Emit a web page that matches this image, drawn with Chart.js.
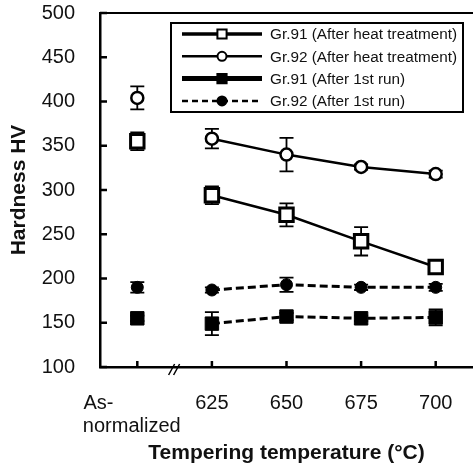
<!DOCTYPE html>
<html>
<head>
<meta charset="utf-8">
<script src="https://cdn.jsdelivr.net/npm/chart.js@4/dist/chart.umd.min.js"></script>
<style>
	html, body { margin: 0; padding: 0; background: #fff; }
</style>
</head>
<body>
<canvas id="chart" width="473" height="466"></canvas>
<script>
// categories (first label padded so the two lines look left aligned)
const categories = [['As-              ', 'normalized  '], '625', '650', '675', '700'];
const yTicks = [100, 150, 200, 250, 300, 350, 400, 450, 500];

// hardness values, HV
const gr91Heat = [355, 294, 272, 242, 213];
const gr91HeatErr = [10, 10, 13, 16, 3];
const gr92Heat = [404, 358, 340, 326, 318];
const gr92HeatErr = [13, 11, 19, 3, 4];
const gr91Run = [155, 149, 157, 155, 156];
const gr91RunErr = [3, 13, 4, 3, 9];
const gr92Run = [190, 187, 193, 190, 190];
const gr92RunErr = [6, 3, 8, 3, 4];

const FONT = "'Liberation Sans', Arial, sans-serif";
const INK = '#111';

// no line between As-normalized and 625
const skipFirst = {
	borderColor: ctx => ctx.p0DataIndex === 0 ? 'rgba(0,0,0,0)' : undefined,
};

function makeSet(label, data, errors, opts)
{
	return Object.assign({
		label: label,
		data: data,
		errors: errors,
		borderColor: '#000',
		pointBorderColor: '#000',
		fill: false,
		tension: 0,
		segment: skipFirst,
	}, opts);
}

const datasets = [
	makeSet('Gr.91 (After heat treatment)', gr91Heat, gr91HeatErr, {
		borderWidth: 2.5, pointStyle: 'rect', pointRadius: 9.5,
		pointBackgroundColor: '#fff', pointBorderWidth: 3,
		legendWidth: 3.5, legendDash: [], legendRadius: 6.5,
	}),
	makeSet('Gr.92 (After heat treatment)', gr92Heat, gr92HeatErr, {
		borderWidth: 2.5, pointStyle: 'circle', pointRadius: 6,
		pointBackgroundColor: '#fff', pointBorderWidth: 2.5,
		legendWidth: 2.5, legendDash: [], legendRadius: 4.5,
	}),
	makeSet('Gr.91 (After 1st run)', gr91Run, gr91RunErr, {
		borderWidth: 3, borderDash: [8, 4], pointStyle: 'rect', pointRadius: 9.5,
		pointBackgroundColor: '#000', pointBorderWidth: 1,
		legendWidth: 5, legendDash: [], legendRadius: 6.5,
	}),
	makeSet('Gr.92 (After 1st run)', gr92Run, gr92RunErr, {
		borderWidth: 3, borderDash: [8, 4], pointStyle: 'circle', pointRadius: 6,
		pointBackgroundColor: '#000', pointBorderWidth: 1,
		legendWidth: 2.5, legendDash: [6, 4], legendRadius: 4.5,
	}),
];

const decor = {
	id: 'decor',
	beforeDatasetsDraw(chart)
	{
		// error bars
		const ctx = chart.ctx;
		const xs = chart.scales.x, ys = chart.scales.y;
		ctx.save();
		ctx.strokeStyle = '#000';
		ctx.lineWidth = 1.8;
		chart.data.datasets.forEach(ds => {
			ds.data.forEach((v, i) => {
				const e = ds.errors[i];
				const px = xs.getPixelForValue(i);
				const top = ys.getPixelForValue(v + e);
				const bot = ys.getPixelForValue(v - e);
				ctx.beginPath();
				ctx.moveTo(px, top); ctx.lineTo(px, bot);
				ctx.moveTo(px - 7, top); ctx.lineTo(px + 7, top);
				ctx.moveTo(px - 7, bot); ctx.lineTo(px + 7, bot);
				ctx.stroke();
			});
		});
		ctx.restore();
	},
	afterDraw(chart)
	{
		const ctx = chart.ctx;
		const area = chart.chartArea;
		const xs = chart.scales.x, ys = chart.scales.y;
		ctx.save();
		ctx.strokeStyle = '#000';

		// top frame line
		ctx.lineWidth = 2;
		ctx.beginPath();
		ctx.moveTo(area.left, area.top);
		ctx.lineTo(area.right, area.top);
		ctx.stroke();

		// inward ticks
		ctx.lineWidth = 2.5;
		ctx.beginPath();
		yTicks.forEach(v => {
			const py = ys.getPixelForValue(v);
			ctx.moveTo(area.left, py); ctx.lineTo(area.left + 7, py);
		});
		categories.forEach((c, i) => {
			const px = xs.getPixelForValue(i);
			ctx.moveTo(px, area.bottom); ctx.lineTo(px, area.bottom - 6);
		});
		ctx.stroke();

		// axis break //
		const bx = (xs.getPixelForValue(0) + xs.getPixelForValue(1)) / 2;
		ctx.lineWidth = 1.5;
		ctx.beginPath();
		ctx.moveTo(bx - 6, area.bottom + 8); ctx.lineTo(bx, area.bottom - 3);
		ctx.moveTo(bx - 1, area.bottom + 8); ctx.lineTo(bx + 5, area.bottom - 3);
		ctx.stroke();

		// legend box
		const lx = area.left + 71, ly = area.top + 10, lw = 292, lh = 89;
		ctx.lineWidth = 2;
		ctx.fillStyle = '#fff';
		ctx.fillRect(lx, ly, lw, lh);
		ctx.strokeRect(lx, ly, lw, lh);

		ctx.font = '15.3px ' + FONT;
		ctx.textBaseline = 'middle';
		chart.data.datasets.forEach((ds, i) => {
			const rowY = ly + 11 + i * 22.3;
			ctx.strokeStyle = '#000';
			ctx.lineWidth = ds.legendWidth;
			ctx.setLineDash(ds.legendDash);
			ctx.beginPath();
			ctx.moveTo(lx + 11, rowY); ctx.lineTo(lx + 91, rowY);
			ctx.stroke();
			ctx.setLineDash([]);
			ctx.fillStyle = ds.pointBackgroundColor;
			ctx.lineWidth = 2;
			Chart.helpers.drawPoint(ctx, {
				pointStyle: ds.pointStyle, rotation: 0,
				radius: ds.legendRadius, borderWidth: 2,
			}, lx + 51, rowY);
			ctx.fillStyle = INK;
			ctx.fillText(ds.label, lx + 99, rowY + 1);
		});
		ctx.restore();
	},
};

new Chart(document.getElementById('chart'), {
	type: 'line',
	data: { labels: categories, datasets: datasets },
	plugins: [decor],
	options: {
		responsive: false,
		animation: false,
		devicePixelRatio: 1,
		layout: { autoPadding: false, padding: { top: 13, right: 0, bottom: 0, left: 0 } },
		plugins: { legend: { display: false }, tooltip: { enabled: false } },
		scales: {
			x: {
				type: 'category',
				offset: true,
				grid: { display: false, drawTicks: false },
				border: { display: true, color: '#000', width: 2.5 },
				ticks: {
					color: INK, padding: 25, maxRotation: 0, autoSkip: false,
					font: { family: FONT, size: 20, lineHeight: 1.15 },
				},
				title: {
					display: true, text: 'Tempering temperature (°C)', color: INK,
					font: { family: FONT, size: 21, weight: 'bold' },
					padding: { top: 0, bottom: 0 },
				},
				afterFit: scale => {
					scale.height = 99;
					scale.paddingLeft = 0;
					scale.paddingRight = 0;
				},
			},
			y: {
				min: 100, max: 500,
				grid: { display: false, drawTicks: false },
				border: { display: true, color: '#000', width: 2.5 },
				ticks: {
					stepSize: 50, color: INK, padding: 25,
					font: { family: FONT, size: 20 },
				},
				title: {
					display: true, text: 'Hardness HV', color: INK,
					font: { family: FONT, size: 21, weight: 'bold' },
					padding: { top: 7, bottom: 0 },
				},
				afterFit: scale => {
					scale.width = 100;
					scale.paddingTop = 0;
					scale.paddingBottom = 0;
				},
			},
		},
	},
});
</script>
</body>
</html>
